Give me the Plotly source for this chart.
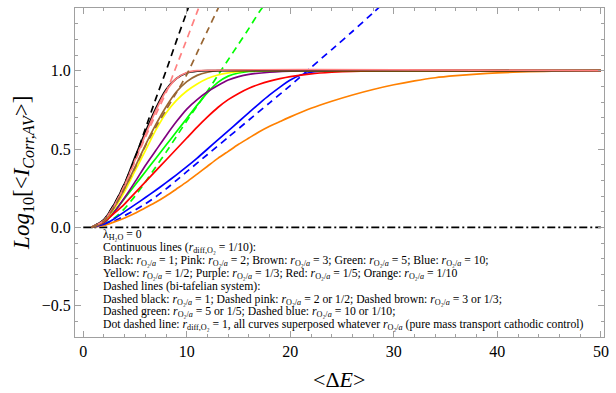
import plotly.graph_objects as go

# ---------------- data ----------------
# Continuous lines (r_diff,O2 = 1/10)
black_x = [0.8, 2, 3, 4, 5, 6, 7, 8, 9, 10, 11, 12, 50]
black_y = [0.0, 0.05, 0.15, 0.28, 0.45, 0.61, 0.76, 0.88, 0.95, 0.985, 0.997, 1.0, 1.0]

pink_x = [0.8, 2, 3, 4, 5, 6, 7, 8, 9, 10, 11, 50]
pink_y = [0.0, 0.045, 0.14, 0.27, 0.43, 0.59, 0.745, 0.87, 0.95, 0.988, 1.0, 1.0]

brown_x = [0.8, 2, 3, 4, 5, 6, 7, 8, 9, 10, 11, 12, 13, 50]
brown_y = [0.0, 0.04, 0.13, 0.25, 0.385, 0.525, 0.655, 0.77, 0.865, 0.93, 0.97, 0.99, 1.0, 1.0]

green_x = [0.8, 2, 3, 4, 5, 6, 7, 8, 9, 10, 11, 12, 13, 14, 15, 16, 18, 50]
green_y = [0.0, 0.03, 0.1, 0.185, 0.27, 0.355, 0.44, 0.525, 0.61, 0.695, 0.78, 0.86, 0.925, 0.965, 0.985,
           0.995, 1.0, 1.0]

blue_x = [0.8, 2, 3, 4, 5, 6, 7, 8, 9, 10, 11, 12, 13, 14, 15, 16, 17, 18, 19, 20, 21, 22, 23, 25, 50]
blue_y = [0.0, 0.02, 0.055, 0.1, 0.145, 0.19, 0.237, 0.285, 0.335, 0.387, 0.442, 0.5, 0.558, 0.616,
          0.674, 0.732, 0.79, 0.845, 0.895, 0.94, 0.972, 0.99, 0.997, 1.0, 1.0]

yellow_x = [0.8, 2, 3, 4, 5, 6, 7, 8, 9, 10, 11, 12, 13, 14, 15, 17, 50]
yellow_y = [0.0, 0.04, 0.12, 0.23, 0.36, 0.49, 0.62, 0.73, 0.81, 0.87, 0.915, 0.95, 0.972, 0.986, 0.994,
            1.0, 1.0]

purple_x = [0.8, 2, 3, 4, 5, 6, 7, 8, 9, 10, 11, 12, 13, 14, 15, 16, 18, 21, 24, 50]
purple_y = [0.0, 0.03, 0.1, 0.19, 0.29, 0.395, 0.49, 0.585, 0.675, 0.755, 0.815, 0.865, 0.905, 0.94,
            0.962, 0.976, 0.99, 0.998, 1.0, 1.0]

red_x = [0.8, 2, 3, 4, 5, 6, 7, 8, 9, 10, 11, 12, 13, 14, 15, 16, 17, 18, 19, 20, 22, 24, 26, 29, 50]
red_y = [0.0, 0.035, 0.09, 0.15, 0.22, 0.29, 0.36, 0.43, 0.5, 0.57, 0.64, 0.705, 0.765, 0.815, 0.855,
         0.888, 0.913, 0.933, 0.949, 0.962, 0.98, 0.99, 0.996, 1.0, 1.0]

orange_x = [0.8, 2, 3, 4, 5, 6, 7, 8, 9, 10, 11, 12, 13, 14, 15, 16, 17, 18, 19, 20, 22, 24, 26, 28,
            30, 32, 34, 36, 38, 40, 43, 46, 50]
orange_y = [0.0, 0.012, 0.035, 0.06, 0.09, 0.125, 0.16, 0.2, 0.245, 0.29, 0.34, 0.39, 0.44, 0.485, 0.53,
            0.57, 0.61, 0.645, 0.675, 0.705, 0.76, 0.805, 0.845, 0.88, 0.91, 0.935, 0.955, 0.968, 0.978,
            0.986, 0.993, 0.998, 1.0]

# Dashed lines (bi-tafelian system)
dblack_x = [0.8, 2, 3, 4, 5, 6, 7, 8, 9, 10, 10.5]
dblack_y = [0.0, 0.05, 0.15, 0.28, 0.44, 0.63, 0.82, 1.0, 1.19, 1.375, 1.47]

dpink_x = [0.8, 2, 3, 4, 5, 6, 7, 8, 9, 10, 11, 11.5]
dpink_y = [0.0, 0.045, 0.14, 0.27, 0.42, 0.575, 0.72, 0.86, 1.03, 1.2, 1.375, 1.46]

dbrown_x = [0.8, 2, 3, 4, 5, 6, 7, 8, 9, 10, 11, 12, 13, 13.5]
dbrown_y = [0.0, 0.04, 0.13, 0.25, 0.38, 0.52, 0.64, 0.75, 0.86, 0.975, 1.115, 1.255, 1.395, 1.465]

dgreen_x = [0.8, 2, 3, 4, 5, 6, 7, 8, 9, 10, 11, 12, 13, 14, 15, 16, 17, 17.5]
dgreen_y = [0.0, 0.02, 0.06, 0.12, 0.2, 0.29, 0.385, 0.48, 0.58, 0.68, 0.775, 0.87, 0.97, 1.07, 1.17,
            1.27, 1.375, 1.42]

dblue_x = [0.8, 2, 3, 4, 5, 6, 7, 8, 9, 10, 12, 14, 16, 18, 20, 22, 24, 26, 28, 29]
dblue_y = [0.0, 0.015, 0.04, 0.075, 0.11, 0.15, 0.195, 0.245, 0.3, 0.355, 0.465, 0.575, 0.685, 0.795,
           0.905, 1.02, 1.135, 1.25, 1.37, 1.43]

# Dot-dashed line (r_diff,O2 = 1)
dotdash_x = [0, 50]
dotdash_y = [0.0, 0.0]

x_ticks = [0, 10, 20, 30, 40, 50]
y_ticks = [-0.5, 0.0, 0.5, 1.0]

# ---------------- figure ----------------
C_BLACK = "#000000"
C_PINK = "#FF8080"
C_BROWN = "#996633"
C_GREEN = "#00FF00"
C_BLUE = "#0000FF"
C_YELLOW = "#FFFF00"
C_PURPLE = "#800080"
C_RED = "#FF0000"
C_ORANGE = "#FF8000"

fig = go.Figure()

DASH = "7px,5px"


def add(x, y, color, dash="solid", width=1.7, shape="spline"):
    fig.add_trace(go.Scatter(x=x, y=y, mode="lines",
                             line=dict(color=color, width=width, dash=dash, shape=shape, smoothing=0.6),
                             showlegend=False, hoverinfo="skip"))


add(dotdash_x, dotdash_y, C_BLACK, dash="8px,3px,2px,3px", width=1.8, shape="linear")

add(dblue_x, dblue_y, C_BLUE, DASH)
add(dgreen_x, dgreen_y, C_GREEN, DASH)

add(orange_x, orange_y, C_ORANGE)
add(blue_x, blue_y, C_BLUE)
add(green_x, green_y, C_GREEN)
add(purple_x, purple_y, C_PURPLE)
add(red_x, red_y, C_RED)
add(yellow_x, yellow_y, C_YELLOW)
add(brown_x, brown_y, C_BROWN)
add(black_x, black_y, C_BLACK)
add(pink_x, pink_y, C_PINK)

add(dblack_x, dblack_y, C_BLACK, DASH)
add(dpink_x, dpink_y, C_PINK, DASH)
add(dbrown_x, dbrown_y, C_BROWN, DASH)

FONT = "'Liberation Serif', 'Times New Roman', Times, serif"
GRAY = "#a0a0a0"

fig.update_layout(
    width=616, height=393,
    margin=dict(l=75, r=8, t=7, b=56),
    paper_bgcolor="white", plot_bgcolor="white",
    font=dict(family=FONT, size=15, color="black"),
    xaxis=dict(range=[-0.8, 50.3], tickvals=x_ticks, ticktext=[str(v) for v in x_ticks],
               ticks="inside", ticklen=6, tickcolor=GRAY, tickwidth=1,
               showline=True, linecolor=GRAY, linewidth=1, mirror="allticks",
               showgrid=False, zeroline=False,
               minor=dict(ticks="inside", ticklen=3, dtick=2, tick0=0, tickcolor=GRAY, showgrid=False),
               tickfont=dict(family=FONT, size=16)),
    yaxis=dict(range=[-0.70, 1.40], tickvals=y_ticks, tickformat=".1f",
               ticks="inside", ticklen=6, tickcolor=GRAY, tickwidth=1,
               showline=True, linecolor=GRAY, linewidth=1, mirror="allticks",
               showgrid=False, zeroline=False,
               minor=dict(ticks="inside", ticklen=3, dtick=0.1, tick0=0, tickcolor=GRAY, showgrid=False),
               tickfont=dict(family=FONT, size=16)),
)

# Axis titles
fig.add_annotation(text="&lt;Δ<i>E</i>&gt;", xref="paper", yref="paper",
                   x=(341 - 75) / 533, y=(337 - 380) / 330, xanchor="center", yanchor="middle",
                   showarrow=False, font=dict(family=FONT, size=22))
fig.add_annotation(text="<i>Log</i><sub>10</sub>[&lt;<i>I</i><sub><i>Corr,AV</i></sub>&gt;]",
                   xref="paper", yref="paper",
                   x=(22 - 75) / 533, y=(337 - 172) / 330, xanchor="center", yanchor="middle",
                   textangle=-90, showarrow=False, font=dict(family=FONT, size=23))

R = "<i>r</i><sub>O₂/<i>a</i></sub>"
RD = "<i>r</i><sub>diff,O₂</sub>"
legend_lines = [
    "λ<sub>H₂O</sub> = 0",
    f"Continuous lines ({RD} = 1/10):",
    f"Black: {R} = 1; Pink: {R} = 2; Brown: {R} = 3; Green: {R} = 5; Blue: {R} = 10;",
    f"Yellow: {R} = 1/2; Purple: {R} = 1/3; Red: {R} = 1/5; Orange: {R} = 1/10",
    "Dashed lines (bi-tafelian system):",
    f"Dashed black: {R} = 1; Dashed pink: {R} = 2 or 1/2; Dashed brown: {R} = 3 or 1/3;",
    f"Dashed green: {R} = 5 or 1/5; Dashed blue: {R} = 10 or 1/10;",
    f"Dot dashed line: {RD} = 1, all curves superposed whatever {R} (pure mass transport cathodic control)",
]
for i, line in enumerate(legend_lines):
    py = 235 + 12.9 * i
    fig.add_annotation(text=line, xref="paper", yref="paper",
                       x=(101 - 75) / 533, y=(337 - py) / 330, xanchor="left", yanchor="middle",
                       showarrow=False, align="left", font=dict(family=FONT, size=11.7))

fig.write_html("out.html")
